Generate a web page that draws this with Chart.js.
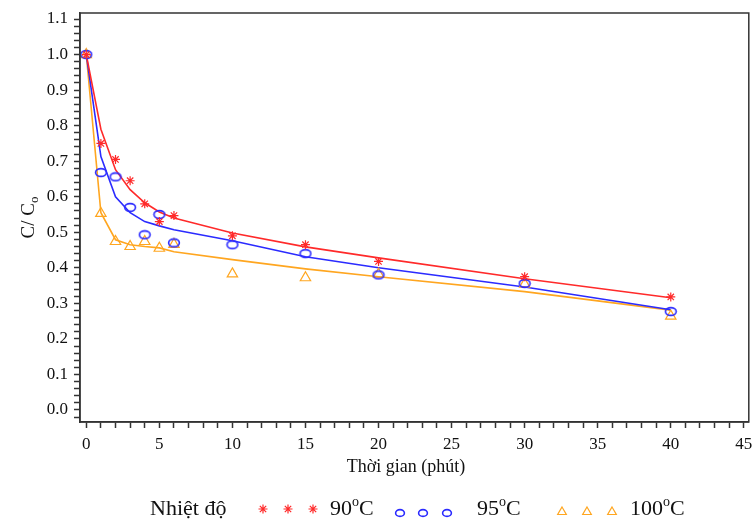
<!DOCTYPE html>
<html>
<head>
<meta charset="utf-8">
<script src="https://cdn.jsdelivr.net/npm/chart.js@4/dist/chart.umd.min.js"></script>
<style>
  body { margin: 0; background: #fff; }
  #wrap { width: 756px; height: 521px; }
</style>
</head>
<body>
<div id="wrap"><canvas id="myChart" width="756" height="521"></canvas></div>
<script>
const times = [0, 1, 2, 3, 4, 5, 6, 10, 15, 20, 30, 40];
const obs90 = [1.0, 0.75, 0.705, 0.645, 0.58, 0.53, 0.547, 0.49, 0.465, 0.418, 0.375, 0.318];
const obs95 = [1.0, 0.668, 0.656, 0.57, 0.493, 0.55, 0.47, 0.465, 0.44, 0.38, 0.356, 0.277];
const obs100 = [1.0, 0.553, 0.474, 0.46, 0.474, 0.455, 0.466, 0.383, 0.372, 0.382, 0.354, 0.264];
const fit90 = [1.0, 0.79, 0.676, 0.62, 0.583, 0.557, 0.54, 0.498, 0.459, 0.428, 0.369, 0.316];
const fit95 = [1.0, 0.713, 0.60, 0.555, 0.53, 0.518, 0.507, 0.476, 0.431, 0.40, 0.346, 0.282];
const fit100 = [1.0, 0.555, 0.479, 0.465, 0.46, 0.456, 0.445, 0.423, 0.397, 0.375, 0.333, 0.281];
const seriesLabels = ['90', '95', '100'];

const RED = '#ff2a2a', BLUE = '#2b2bff', ORANGE = '#ffa620';
const FONT = '"Liberation Serif", "Times New Roman", serif';

function pts(ys) {
    return times.map((t, i) => ({ x: t, y: ys[i] }));
}

// blue open ellipse marker
function makeEllipse(w, h, lw) {
    const cv = document.createElement('canvas');
    cv.width = w; cv.height = h;
    const c = cv.getContext('2d');
    c.strokeStyle = BLUE;
    c.lineWidth = lw;
    c.beginPath();
    c.ellipse(w / 2, h / 2, w / 2 - lw, h / 2 - lw, 0, 0, Math.PI * 2);
    c.stroke();
    return cv;
}
const ellipse = makeEllipse(14, 11, 1.6);
const ellipseSmall = makeEllipse(12, 10, 1.6);

const obsStyle = [
    { pointStyle: 'star', color: RED, radius: 4.5 },
    { pointStyle: ellipse, color: BLUE, radius: 5 },
    { pointStyle: 'triangle', color: ORANGE, radius: 6 }
];

const decor = {
    id: 'decor',
    afterDraw(chart) {
        const ctx = chart.ctx;
        const a = chart.chartArea;
        ctx.save();
        // frame
        ctx.strokeStyle = '#333';
        ctx.lineWidth = 1.5;
        ctx.strokeRect(a.left, a.top, a.right - a.left, a.bottom - a.top);

        ctx.fillStyle = '#111';
        // x title
        ctx.font = '18px ' + FONT;
        ctx.textAlign = 'center';
        ctx.textBaseline = 'middle';
        ctx.fillText('Thời gian (phút)', 406, 467);

        // y title with subscript
        ctx.save();
        ctx.translate(27, (a.top + a.bottom) / 2);
        ctx.rotate(-Math.PI / 2);
        ctx.font = '19px ' + FONT;
        const main = 'C/ C';
        const w1 = ctx.measureText(main).width;
        ctx.font = '13px ' + FONT;
        const w2 = ctx.measureText('o').width;
        const x0 = -(w1 + w2) / 2;
        ctx.textAlign = 'left';
        ctx.textBaseline = 'alphabetic';
        ctx.font = '19px ' + FONT;
        ctx.fillText(main, x0, 7);
        ctx.font = '13px ' + FONT;
        ctx.fillText('o', x0 + w1, 11);
        ctx.restore();

        // legend
        ctx.textAlign = 'left';
        ctx.textBaseline = 'alphabetic';
        ctx.font = '22px ' + FONT;
        ctx.fillText('Nhiệt độ', 150, 515);
        const markerX = [[263, 288, 313], [400, 423, 447], [562, 587, 612]];
        const labelX = [330, 477, 630];
        const markerY = [509, 513, 512];
        obsStyle.forEach((s, i) => {
            markerX[i].forEach(mx => {
                if (s.pointStyle === ellipse) {
                    ctx.drawImage(ellipseSmall, mx - 6, markerY[i] - 5);
                } else {
                    ctx.strokeStyle = s.color;
                    ctx.fillStyle = 'rgba(0,0,0,0)';
                    ctx.lineWidth = 1.2;
                    Chart.helpers.drawPoint(ctx, {
                        pointStyle: s.pointStyle, radius: s.pointStyle === 'star' ? 4.5 : 5,
                        borderWidth: 1.2, rotation: 0
                    }, mx, markerY[i]);
                }
            });
            ctx.fillStyle = '#111';
            ctx.font = '22px ' + FONT;
            const num = seriesLabels[i];
            let x = labelX[i];
            ctx.fillText(num, x, 515);
            x += ctx.measureText(num).width;
            ctx.font = '14px ' + FONT;
            ctx.fillText('o', x, 506);
            x += ctx.measureText('o').width;
            ctx.font = '22px ' + FONT;
            ctx.fillText('C', x, 515);
        });
        ctx.restore();
    }
};

const obsDatasets = [obs90, obs95, obs100].map((ys, i) => ({
    label: seriesLabels[i] + '°C',
    data: pts(ys),
    showLine: false,
    pointStyle: obsStyle[i].pointStyle,
    pointRadius: obsStyle[i].radius,
    pointBorderColor: obsStyle[i].color,
    pointBackgroundColor: 'rgba(0,0,0,0)',
    pointBorderWidth: 1.2,
    borderColor: obsStyle[i].color
}));

const fitDatasets = [fit90, fit95, fit100].map((ys, i) => ({
    label: 'fit ' + seriesLabels[i],
    data: pts(ys),
    showLine: true,
    borderColor: obsStyle[i].color,
    borderWidth: 1.6,
    pointRadius: 0,
    tension: 0,
    fill: false
}));

const ctx = document.getElementById('myChart').getContext('2d');

new Chart(ctx, {
    type: 'scatter',
    data: { datasets: [...obsDatasets, ...fitDatasets] },
    options: {
        responsive: false,
        animation: false,
        layout: { padding: { left: 0, top: 13, right: 7, bottom: 0 } },
        plugins: { legend: { display: false }, tooltip: { enabled: false } },
        scales: {
            x: {
                type: 'linear',
                min: -0.43,
                max: 45.34,
                afterFit: s => { s.height = 99; s.paddingLeft = 0; s.paddingRight = 0; },
                grid: { drawOnChartArea: false, tickLength: 6, tickColor: '#333', tickWidth: 1.5 },
                border: { display: true, color: '#333', width: 1.5 },
                ticks: {
                    stepSize: 1,
                    autoSkip: false,
                    maxRotation: 0,
                    includeBounds: false,
                    padding: 6,
                    color: '#111',
                    font: { family: FONT, size: 17 },
                    callback: v => (Math.abs(v % 5) < 1e-6 ? String(Math.round(v)) : '')
                }
            },
            y: {
                min: -0.0338,
                max: 1.1169,
                afterFit: s => { s.width = 80; s.paddingTop = 0; s.paddingBottom = 0; },
                grid: { drawOnChartArea: false, tickLength: 6, tickColor: '#333', tickWidth: 1.5 },
                border: { display: true, color: '#333', width: 1.5 },
                ticks: {
                    stepSize: 0.02,
                    autoSkip: false,
                    includeBounds: false,
                    padding: 6,
                    color: '#111',
                    font: { family: FONT, size: 17 },
                    callback: v => (Math.abs(v * 10 - Math.round(v * 10)) < 1e-6 ? v.toFixed(1) : '')
                }
            }
        }
    },
    plugins: [decor]
});
</script>
</body>
</html>
